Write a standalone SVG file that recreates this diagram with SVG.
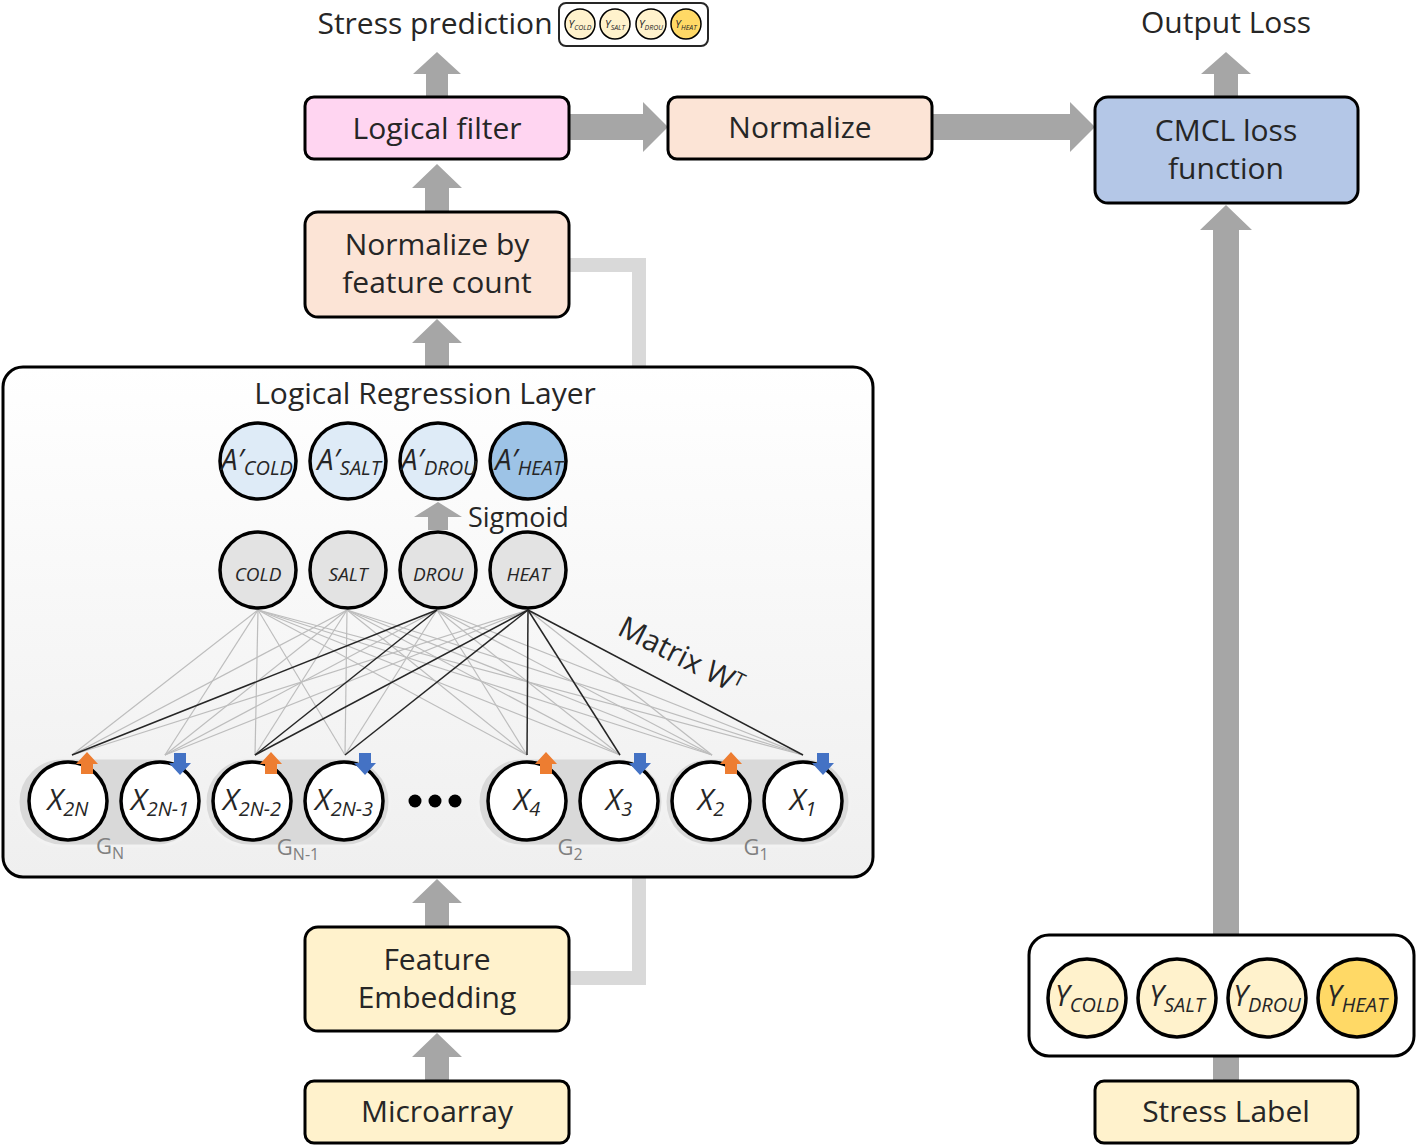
<svg xmlns="http://www.w3.org/2000/svg" width="1417" height="1146" viewBox="0 0 1417 1146">
<defs>
<linearGradient id="lrl" x1="0" y1="0" x2="0" y2="1">
<stop offset="0" stop-color="#ffffff"/>
<stop offset="1" stop-color="#efefef"/>
</linearGradient>
<style>
text{font-family:"Open Sans","Noto Sans","Liberation Sans",sans-serif;fill:#262626}
.t30{font-size:30px;text-anchor:middle}
.box{stroke:#000;stroke-width:3}
.arr{fill:#a6a6a6}
.conn{fill:none;stroke:#d9d9d9;stroke-width:14}
.c{stroke:#000;stroke-width:3.5}
.it{font-style:italic;text-anchor:middle}
.wg{stroke:#bdbdbd;stroke-width:1.2}
.wb{stroke:#262626;stroke-width:1.5}
.pill{fill:#d9d9d9;stroke:#f2f2f2;stroke-width:3}
.g{font-size:22px;fill:#808080;text-anchor:middle}
.up{fill:#ed7d31}
.dn{fill:#4472c4}
</style>
</defs>
<rect width="1417" height="1146" fill="#ffffff"/>

<g id="connectors">
<path class="arr" d="M426,97 V74 H413 L437,52 L461,74 H448 V97 Z"/>
<path class="arr" d="M425,212 V188 H412 L437,164 L462,188 H449 V212 Z"/>
<path class="arr" d="M425,367 V343 H412 L437,319 L462,343 H449 V367 Z"/>
<path class="arr" d="M425,927 V903 H412 L437,879 L462,903 H449 V927 Z"/>
<path class="arr" d="M425,1081 V1057 H412 L437,1033 L462,1057 H449 V1081 Z"/>
<path class="arr" d="M1214,97 V74 H1201 L1226,52 L1251,74 H1238 V97 Z"/>
<path class="arr" d="M1213,935 V230 H1200 L1226,205 L1252,230 H1239 V935 Z"/>
<rect class="arr" x="1213" y="1056" width="26" height="25"/>
<path class="arr" d="M569,114 H643 V102 L668,127 L643,152 V140 H569 Z"/>
<path class="arr" d="M932,114 H1070 V102 L1095,127 L1070,152 V140 H932 Z"/>
<path class="conn" d="M569,265 H639 V367"/>
<path class="conn" d="M569,978 H639 V877"/>
</g>

<g id="stress-prediction">
<text class="t30" x="435" y="34">Stress prediction</text>
<rect x="559" y="3" width="149" height="43" rx="7" fill="#fff" stroke="#262626" stroke-width="2"/>
<circle cx="580" cy="24" r="15" fill="#fff2cc" stroke="#000" stroke-width="1.5"/>
<circle cx="615" cy="24" r="15" fill="#fff2cc" stroke="#000" stroke-width="1.5"/>
<circle cx="651" cy="24" r="15" fill="#fff2cc" stroke="#000" stroke-width="1.5"/>
<circle cx="686" cy="24" r="15" fill="#ffd966" stroke="#000" stroke-width="1.5"/>
<text class="it" x="580" y="28" font-size="11">Y<tspan font-size="7" dy="2">COLD</tspan></text>
<text class="it" x="615" y="28" font-size="11">Y<tspan font-size="7" dy="2">SALT</tspan></text>
<text class="it" x="651" y="28" font-size="11">Y<tspan font-size="7" dy="2">DROU</tspan></text>
<text class="it" x="686" y="28" font-size="11">Y<tspan font-size="7" dy="2">HEAT</tspan></text>
</g>

<g id="output-loss"><text class="t30" x="1226" y="33">Output Loss</text></g>

<g id="logical-filter">
<rect class="box" x="305" y="97" width="264" height="62" rx="9" fill="#ffd5f1"/>
<text class="t30" x="437" y="139">Logical filter</text>
</g>

<g id="normalize">
<rect class="box" x="668" y="97" width="264" height="62" rx="9" fill="#fce4d6"/>
<text class="t30" x="800" y="138">Normalize</text>
</g>

<g id="cmcl">
<rect class="box" x="1095" y="97" width="263" height="106" rx="13" fill="#b4c7e7"/>
<text class="t30" x="1226" y="141">CMCL loss</text>
<text class="t30" x="1226" y="179">function</text>
</g>

<g id="normalize-feature-count">
<rect class="box" x="305" y="212" width="264" height="105" rx="13" fill="#fce4d6"/>
<text class="t30" x="437" y="255">Normalize by</text>
<text class="t30" x="437" y="293">feature count</text>
</g>

<g id="logical-regression-layer">
<rect x="3" y="367" width="870" height="510" rx="20" fill="url(#lrl)" stroke="#000" stroke-width="3"/>
<text class="t30" x="425" y="404">Logical Regression Layer</text>

<g id="weights">
<g class="wg">
<line x1="258" y1="610" x2="72" y2="755"/>
<line x1="258" y1="610" x2="165" y2="755"/>
<line x1="258" y1="610" x2="255" y2="755"/>
<line x1="258" y1="610" x2="345" y2="755"/>
<line x1="258" y1="610" x2="527" y2="755"/>
<line x1="258" y1="610" x2="620" y2="755"/>
<line x1="258" y1="610" x2="712" y2="755"/>
<line x1="258" y1="610" x2="803" y2="755"/>
<line x1="347" y1="610" x2="72" y2="755"/>
<line x1="347" y1="610" x2="165" y2="755"/>
<line x1="347" y1="610" x2="255" y2="755"/>
<line x1="347" y1="610" x2="345" y2="755"/>
<line x1="347" y1="610" x2="527" y2="755"/>
<line x1="347" y1="610" x2="620" y2="755"/>
<line x1="347" y1="610" x2="712" y2="755"/>
<line x1="347" y1="610" x2="803" y2="755"/>
<line x1="437" y1="610" x2="165" y2="755"/>
<line x1="437" y1="610" x2="345" y2="755"/>
<line x1="437" y1="610" x2="527" y2="755"/>
<line x1="437" y1="610" x2="620" y2="755"/>
<line x1="437" y1="610" x2="712" y2="755"/>
<line x1="437" y1="610" x2="803" y2="755"/>
<line x1="528" y1="610" x2="72" y2="755"/>
<line x1="528" y1="610" x2="165" y2="755"/>
<line x1="528" y1="610" x2="712" y2="755"/>
</g>
<g class="wb">
<line x1="437" y1="610" x2="72" y2="755"/>
<line x1="437" y1="610" x2="255" y2="755"/>
<line x1="528" y1="610" x2="255" y2="755"/>
<line x1="528" y1="610" x2="345" y2="755"/>
<line x1="528" y1="610" x2="527" y2="755"/>
<line x1="528" y1="610" x2="620" y2="755"/>
<line x1="528" y1="610" x2="803" y2="755"/>
</g>
</g>
<text x="616" y="634" font-size="30" transform="rotate(27 616 634)">Matrix W<tspan font-size="19" dy="-9">T</tspan></text>

<path class="arr" d="M428,530 V517 H414 L438,502 L462,517 H448 V530 Z"/>
<text x="468" y="527" font-size="27">Sigmoid</text>

<g id="a-cold"><circle class="c" cx="258" cy="461" r="38" fill="#deebf7"/><text class="it" x="257" y="470" font-size="29">A′<tspan font-size="20" dy="5">COLD</tspan></text></g>
<g id="a-salt"><circle class="c" cx="348" cy="461" r="38" fill="#deebf7"/><text class="it" x="349" y="470" font-size="29">A′<tspan font-size="20" dy="5">SALT</tspan></text></g>
<g id="a-drou"><circle class="c" cx="438" cy="461" r="38" fill="#deebf7"/><text class="it" x="439" y="470" font-size="29">A′<tspan font-size="20" dy="5">DROU</tspan></text></g>
<g id="a-heat"><circle class="c" cx="528" cy="461" r="38" fill="#9dc3e6"/><text class="it" x="529" y="470" font-size="29">A′<tspan font-size="20" dy="5">HEAT</tspan></text></g>

<g id="cold"><circle class="c" cx="258" cy="570" r="38" fill="#e3e3e3"/><text class="it" x="258" y="581" font-size="19">COLD</text></g>
<g id="salt"><circle class="c" cx="348" cy="570" r="38" fill="#e3e3e3"/><text class="it" x="348" y="581" font-size="19">SALT</text></g>
<g id="drou"><circle class="c" cx="438" cy="570" r="38" fill="#e3e3e3"/><text class="it" x="438" y="581" font-size="19">DROU</text></g>
<g id="heat"><circle class="c" cx="528" cy="570" r="38" fill="#e3e3e3"/><text class="it" x="528" y="581" font-size="19">HEAT</text></g>

<rect class="pill" x="18" y="758" width="183" height="88" rx="44"/>
<rect class="pill" x="205" y="758" width="185" height="88" rx="44"/>
<rect class="pill" x="478" y="758" width="185" height="88" rx="44"/>
<rect class="pill" x="665" y="758" width="185" height="88" rx="44"/>

<g id="x2n"><circle class="c" cx="68" cy="801" r="39" fill="#fff"/><text class="it" x="68" y="810" font-size="30">X<tspan font-size="20" dy="6">2N</tspan></text></g>
<g id="x2n-1"><circle class="c" cx="160" cy="801" r="39" fill="#fff"/><text class="it" x="160" y="810" font-size="30">X<tspan font-size="20" dy="6">2N-1</tspan></text></g>
<g id="x2n-2"><circle class="c" cx="252" cy="801" r="39" fill="#fff"/><text class="it" x="252" y="810" font-size="30">X<tspan font-size="20" dy="6">2N-2</tspan></text></g>
<g id="x2n-3"><circle class="c" cx="344" cy="801" r="39" fill="#fff"/><text class="it" x="344" y="810" font-size="30">X<tspan font-size="20" dy="6">2N-3</tspan></text></g>
<g id="x4"><circle class="c" cx="527" cy="801" r="39" fill="#fff"/><text class="it" x="527" y="810" font-size="30">X<tspan font-size="20" dy="6">4</tspan></text></g>
<g id="x3"><circle class="c" cx="619" cy="801" r="39" fill="#fff"/><text class="it" x="619" y="810" font-size="30">X<tspan font-size="20" dy="6">3</tspan></text></g>
<g id="x2"><circle class="c" cx="711" cy="801" r="39" fill="#fff"/><text class="it" x="711" y="810" font-size="30">X<tspan font-size="20" dy="6">2</tspan></text></g>
<g id="x1"><circle class="c" cx="803" cy="801" r="39" fill="#fff"/><text class="it" x="803" y="810" font-size="30">X<tspan font-size="20" dy="6">1</tspan></text></g>

<circle cx="415" cy="801" r="6.5" fill="#000"/>
<circle cx="435" cy="801" r="6.5" fill="#000"/>
<circle cx="455" cy="801" r="6.5" fill="#000"/>

<path class="up" d="M81,774 V764 H76 L87,752 L98,764 H93 V774 Z"/>
<path class="dn" d="M174,753 V763 H169 L180,775 L191,763 H186 V753 Z"/>
<path class="up" d="M265,774 V764 H260 L271,752 L282,764 H277 V774 Z"/>
<path class="dn" d="M359,753 V763 H354 L365,775 L376,763 H371 V753 Z"/>
<path class="up" d="M540,774 V764 H535 L546,752 L557,764 H552 V774 Z"/>
<path class="dn" d="M634,753 V763 H629 L640,775 L651,763 H646 V753 Z"/>
<path class="up" d="M725,774 V764 H720 L731,752 L742,764 H737 V774 Z"/>
<path class="dn" d="M817,753 V763 H812 L823,775 L834,763 H829 V753 Z"/>

<text class="g" x="110" y="854">G<tspan font-size="16" dy="5">N</tspan></text>
<text class="g" x="298" y="855">G<tspan font-size="16" dy="5">N-1</tspan></text>
<text class="g" x="570" y="855">G<tspan font-size="16" dy="5">2</tspan></text>
<text class="g" x="756" y="855">G<tspan font-size="16" dy="5">1</tspan></text>
</g>

<g id="feature-embedding">
<rect class="box" x="305" y="927" width="264" height="104" rx="13" fill="#fff2cc"/>
<text class="t30" x="437" y="970">Feature</text>
<text class="t30" x="437" y="1008">Embedding</text>
</g>

<g id="microarray">
<rect class="box" x="305" y="1081" width="264" height="62" rx="9" fill="#fff2cc"/>
<text class="t30" x="437" y="1122">Microarray</text>
</g>

<g id="stress-label-set">
<rect x="1029" y="935" width="385" height="121" rx="20" fill="#fff" stroke="#000" stroke-width="3"/>
<g id="y-cold"><circle class="c" cx="1087" cy="998" r="39" fill="#fff2cc"/><text class="it" x="1087" y="1006" font-size="29">Y<tspan font-size="20" dy="6">COLD</tspan></text></g>
<g id="y-salt"><circle class="c" cx="1177" cy="998" r="39" fill="#fff2cc"/><text class="it" x="1177" y="1006" font-size="29">Y<tspan font-size="20" dy="6">SALT</tspan></text></g>
<g id="y-drou"><circle class="c" cx="1267" cy="998" r="39" fill="#fff2cc"/><text class="it" x="1267" y="1006" font-size="29">Y<tspan font-size="20" dy="6">DROU</tspan></text></g>
<g id="y-heat"><circle class="c" cx="1357" cy="998" r="39" fill="#ffd966"/><text class="it" x="1357" y="1006" font-size="29">Y<tspan font-size="20" dy="6">HEAT</tspan></text></g>
</g>

<g id="stress-label">
<rect class="box" x="1095" y="1081" width="263" height="62" rx="9" fill="#fff2cc"/>
<text class="t30" x="1226" y="1122">Stress Label</text>
</g>
</svg>
